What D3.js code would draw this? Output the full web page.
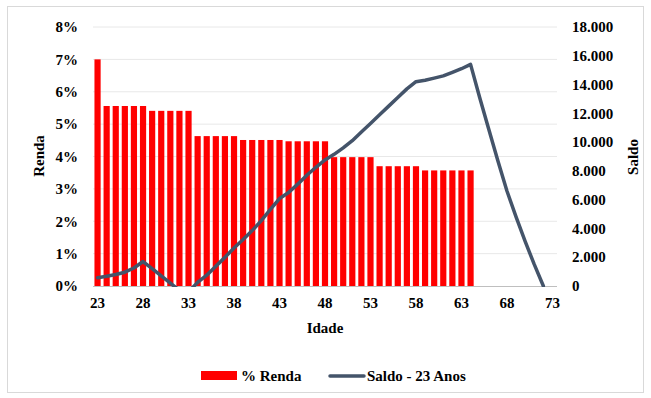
<!DOCTYPE html>
<html><head><meta charset="utf-8">
<script src="https://cdn.jsdelivr.net/npm/d3@7"></script>
<style>body{margin:0;background:#fff}svg{display:block}text{font-family:"Liberation Serif","Times New Roman",serif;font-weight:bold;fill:#000}</style>
</head><body><svg id="c" width="651" height="398"></svg>
<script>
const ages = d3.range(23, 74);
const renda = [7.0,
 5.56,5.56,5.56,5.56,5.56,
 5.41,5.41,5.41,5.41,5.41,
 4.63,4.63,4.63,4.63,4.63,
 4.51,4.51,4.51,4.51,4.51,
 4.47,4.47,4.47,4.47,4.47,
 3.98,3.98,3.98,3.98,3.98,
 3.70,3.70,3.70,3.70,3.70,
 3.57,3.57,3.57,3.57,3.57,3.57,
 null,null,null,null,null,null,null,null,null];
const saldo = [580,680,800,960,1250,1700,
 1200,700,200,-300,-400,
 250,750,1380,1990,2640,3230,3850,4540,5320,6080,
 6500,7080,7700,8250,8760,9150,9600,10100,10700,11300,
 11900,12500,13100,13700,14200,14300,14450,14600,14850,15100,15400,
 13100,10900,8700,6600,4800,3100,1500,0,null];
const leftTicks = [0,1,2,3,4,5,6,7,8];
const rightTicks = [0,2000,4000,6000,8000,10000,12000,14000,16000,18000];
const xLabels = [23,28,33,38,43,48,53,58,63,68,73];

const svg = d3.select("#c");
const L = 93, R = 557, T = 27, B = 286;
svg.append("rect").attr("x",7.5).attr("y",6.5).attr("width",636).attr("height",386)
  .attr("fill","#fff").attr("stroke","#d9d9d9");

const x = d3.scaleBand().domain(ages).range([L, R]).padding(0);
const yL = d3.scaleLinear().domain([0, 8]).range([B, T]);
const yR = d3.scaleLinear().domain([0, 18000]).range([B, T]);

// gridlines
svg.append("g").selectAll("line").data(leftTicks.slice(1)).join("line")
  .attr("x1", L).attr("x2", R).attr("y1", d => yL(d)).attr("y2", d => yL(d))
  .attr("stroke", "#e8e8e8").attr("stroke-width", 1);

// bars
const bw = x.bandwidth() * 0.68;
svg.append("g").selectAll("rect").data(ages.map((a,i)=>({a, v: renda[i]})).filter(d => d.v != null)).join("rect")
  .attr("x", d => x(d.a) + (x.bandwidth() - bw) / 2)
  .attr("width", bw)
  .attr("y", d => yL(d.v))
  .attr("height", d => B - yL(d.v))
  .attr("fill", "#ff0000");

// baseline
svg.append("line").attr("x1", L).attr("x2", R).attr("y1", B + 0.5).attr("y2", B + 0.5)
  .attr("stroke", "#bfbfbf").attr("stroke-width", 1);

// line (clipped)
svg.append("clipPath").attr("id","clp").append("rect").attr("x", L).attr("y", 0).attr("width", R - L).attr("height", B + 1);
const line = d3.line().defined(d => d.v != null)
  .x(d => x(d.a) + x.bandwidth() / 2).y(d => yR(d.v));
svg.append("path").datum(ages.map((a,i)=>({a, v: saldo[i]})))
  .attr("clip-path","url(#clp)")
  .attr("d", line).attr("fill", "none").attr("stroke", "#44546a")
  .attr("stroke-width", 3.5).attr("stroke-linejoin", "round").attr("stroke-linecap", "round");

// left axis labels
svg.append("g").selectAll("text").data(leftTicks).join("text")
  .attr("x", 78).attr("y", d => yL(d)).attr("dy", "0.35em").attr("text-anchor", "end")
  .attr("font-size", 15).text(d => d + "%");
// right axis labels
const fmt = v => d3.format(",")(v).replace(/,/g, ".");
svg.append("g").selectAll("text").data(rightTicks).join("text")
  .attr("x", 572).attr("y", d => yR(d)).attr("dy", "0.35em").attr("text-anchor", "start")
  .attr("font-size", 15).text(fmt);
// x labels
svg.append("g").selectAll("text").data(xLabels).join("text")
  .attr("x", d => x(d) + x.bandwidth() / 2).attr("y", 303).attr("dy", "0.35em")
  .attr("text-anchor", "middle").attr("font-size", 15).text(d => d);

// axis titles
svg.append("text").attr("transform", "translate(44,156) rotate(-90)").attr("text-anchor", "middle")
  .attr("font-size", 15).text("Renda");
svg.append("text").attr("transform", "translate(638,157) rotate(-90)").attr("text-anchor", "middle")
  .attr("font-size", 15).text("Saldo");
svg.append("text").attr("x", 325).attr("y", 333).attr("text-anchor", "middle")
  .attr("font-size", 15).text("Idade");

// legend
const lg = svg.append("g");
lg.append("rect").attr("x", 201).attr("y", 371).attr("width", 36).attr("height", 9).attr("fill", "#ff0000");
lg.append("text").attr("x", 241).attr("y", 376).attr("dy", "0.35em").attr("font-size", 15).text("% Renda");
lg.append("line").attr("x1", 330).attr("x2", 364).attr("y1", 376).attr("y2", 376)
  .attr("stroke", "#44546a").attr("stroke-width", 3.5).attr("stroke-linecap", "round");
lg.append("text").attr("x", 367).attr("y", 376).attr("dy", "0.35em").attr("font-size", 15).text("Saldo - 23 Anos");
</script></body></html>
